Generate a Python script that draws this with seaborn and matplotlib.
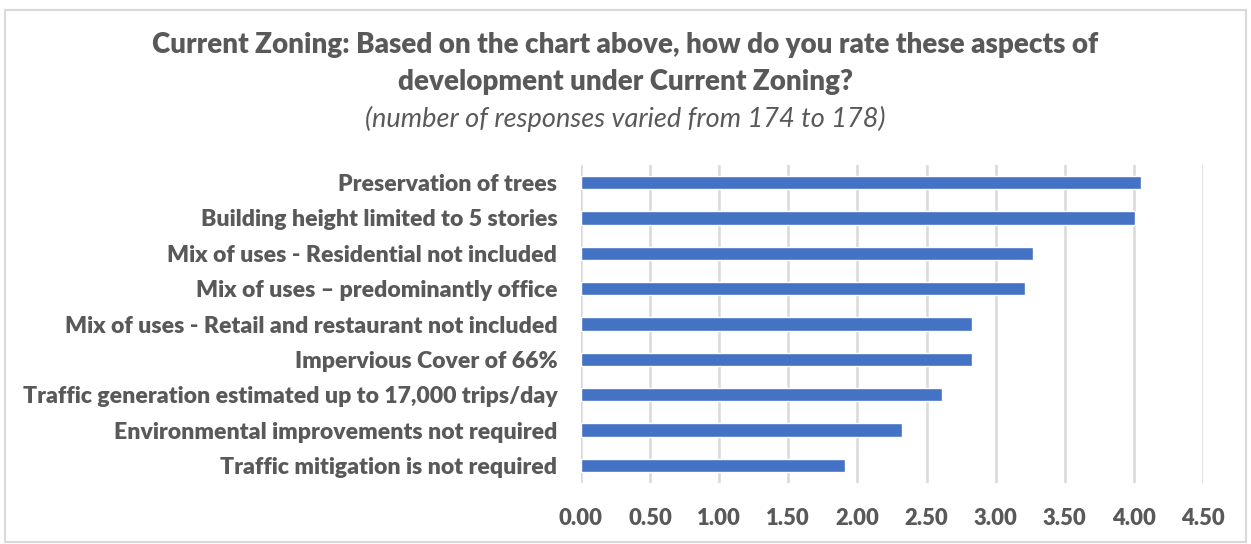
import pandas as pd
import seaborn as sns
import matplotlib.pyplot as plt
from matplotlib.patches import Rectangle

aspects = [
    "Preservation of trees",
    "Building height limited to 5 stories",
    "Mix of uses - Residential not included",
    "Mix of uses \u2013 predominantly office",
    "Mix of uses - Retail and restaurant not included",
    "Impervious Cover of 66%",
    "Traffic generation estimated up to 17,000 trips/day",
    "Environmental improvements not required",
    "Traffic mitigation is not required",
]
ratings = [4.05, 4.01, 3.27, 3.21, 2.83, 2.83, 2.61, 2.32, 1.91]
x_ticks = [0.0, 0.5, 1.0, 1.5, 2.0, 2.5, 3.0, 3.5, 4.0, 4.5]

TEXT = "#595959"
GRID = "#d9d9d9"
BAR = "#4472c4"


def main():
    sns.set_style("white")
    plt.rcParams["font.family"] = ["Lato", "DejaVu Sans"]

    df = pd.DataFrame({"aspect": aspects, "rating": ratings})

    fig = plt.figure(figsize=(12.51, 5.44), dpi=100)
    ax = fig.add_axes([0.4644, 0.1121, 0.4972, 0.5846])

    sns.barplot(data=df, x="rating", y="aspect", color=BAR, width=0.37,
                saturation=1, ax=ax, zorder=3)

    ax.set_xlim(0, 4.5)
    ax.set_xticks(x_ticks)
    ax.set_xticklabels([f"{t:.2f}" for t in x_ticks])
    ax.xaxis.grid(True, color=GRID, linewidth=1.8, zorder=0)
    ax.set_axisbelow(True)
    for s in ax.spines.values():
        s.set_visible(False)
    ax.set_xlabel("")
    ax.set_ylabel("")
    ax.tick_params(axis="both", length=0, colors=TEXT, labelsize=15.8)
    ax.tick_params(axis="y", labelsize=16.6, pad=17)
    ax.tick_params(axis="x", pad=18)
    for lbl in ax.get_xticklabels() + ax.get_yticklabels():
        lbl.set_fontweight("heavy")

    fig.text(0.5, 0.918, "Current Zoning: Based on the chart above, how do you rate these aspects of",
             ha="center", va="center", fontsize=20, fontweight="heavy", color=TEXT)
    fig.text(0.5, 0.849, "development under Current Zoning?",
             ha="center", va="center", fontsize=20, fontweight="heavy", color=TEXT)
    fig.text(0.5, 0.782, "(number of responses varied from 174 to 178)",
             ha="center", va="center", fontsize=19.5, style="italic", color=TEXT)

    fig.patches.append(Rectangle((0.004, 0.004), 0.992, 0.978, transform=fig.transFigure,
                                 fill=False, edgecolor=GRID, linewidth=1.5))

    fig.savefig("out.png", dpi=100, facecolor="white")


if __name__ == "__main__":
    main()
